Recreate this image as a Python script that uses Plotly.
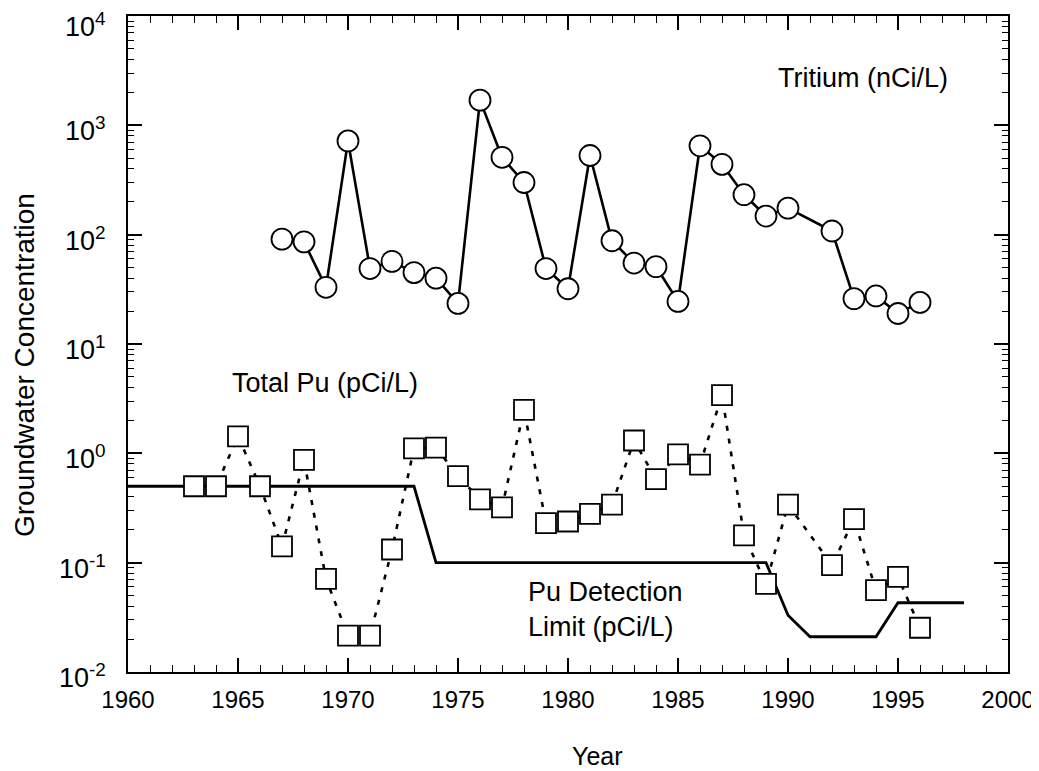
import math
import plotly.graph_objects as go

# ---- data ----
tritium_years = [1967, 1968, 1969, 1970, 1971, 1972, 1973, 1974, 1975, 1976, 1977, 1978,
                 1979, 1980, 1981, 1982, 1983, 1984, 1985, 1986, 1987, 1988, 1989, 1990,
                 1992, 1993, 1994, 1995, 1996]
tritium_vals = [91, 86, 33, 720, 49, 57, 45, 40, 23.5, 1700, 510, 300,
                49, 32, 530, 88, 55, 51, 24.5, 650, 440, 232, 148, 175,
                108, 26, 27.5, 19, 24]

pu_years = [1963, 1964, 1965, 1966, 1967, 1968, 1969, 1970, 1971, 1972, 1973, 1974,
            1975, 1976, 1977, 1978, 1979, 1980, 1981, 1982, 1983, 1984, 1985, 1986,
            1987, 1988, 1989, 1990, 1992, 1993, 1994, 1995, 1996]
pu_vals = [0.5, 0.5, 1.43, 0.5, 0.141, 0.87, 0.071, 0.0215, 0.0215, 0.132, 1.11, 1.13,
           0.62, 0.38, 0.32, 2.5, 0.23, 0.238, 0.28, 0.34, 1.31, 0.58, 0.98, 0.79,
           3.4, 0.178, 0.064, 0.34, 0.095, 0.25, 0.056, 0.074, 0.0254]

limit_years = [1960, 1973, 1974, 1989, 1990, 1991, 1994, 1995, 1998]
limit_vals = [0.5, 0.5, 0.1, 0.1, 0.033, 0.021, 0.021, 0.043, 0.043]

y_tick_vals = [1e-2, 1e-1, 1e0, 1e1, 1e2, 1e3, 1e4]
y_tick_text = ["10<sup>-2</sup>", "10<sup>-1</sup>", "10<sup>0</sup>", "10<sup>1</sup>",
               "10<sup>2</sup>", "10<sup>3</sup>", "10<sup>4</sup>"]
y_minor_vals = [d * 10.0 ** k for k in range(-2, 4) for d in range(2, 10)]
x_tick_vals = [1960, 1965, 1970, 1975, 1980, 1985, 1990, 1995, 2000]
x_tick_text = ["1960", "1965", "1970", "1975", "1980", "1985", "1990", "1995", "2000"]

FONT = "Liberation Sans, Arial, Helvetica, sans-serif"

fig = go.Figure()

fig.add_trace(go.Scatter(
    x=limit_years, y=limit_vals, mode="lines",
    line=dict(color="black", width=2.8), showlegend=False, hoverinfo="skip"))

fig.add_trace(go.Scatter(
    x=pu_years, y=pu_vals, mode="lines+markers",
    line=dict(color="black", width=2.6, dash="5px,8px"),
    marker=dict(symbol="square", size=20, color="white",
                line=dict(color="black", width=1.8)),
    showlegend=False))

fig.add_trace(go.Scatter(
    x=tritium_years, y=tritium_vals, mode="lines+markers",
    line=dict(color="black", width=2.6),
    marker=dict(symbol="circle", size=21, color="white",
                line=dict(color="black", width=1.8)),
    showlegend=False))

ann_font = dict(family=FONT, size=27, color="black")
fig.add_annotation(x=1993.4, y=3.433, xref="x", yref="y", text="Tritium (nCi/L)",
                   showarrow=False, font=ann_font)
fig.add_annotation(x=1968.95, y=0.642, xref="x", yref="y", text="Total Pu (pCi/L)",
                   showarrow=False, font=ann_font)
fig.add_annotation(x=1981.7, y=-1.425, xref="x", yref="y",
                   text="Pu Detection<br>Limit (pCi/L)", align="left",
                   showarrow=False, font=ann_font)

# y tick labels as text next to the axis (top one nudged down as in the reference)
for v, t in zip(y_tick_vals, y_tick_text):
    shift = -9 if v == max(y_tick_vals) else -4
    fig.add_annotation(x=-0.0227, y=math.log10(v), xref="paper", yref="y", text=t,
                       xanchor="right", yanchor="middle", yshift=shift, showarrow=False,
                       font=dict(family=FONT, size=27, color="black"))

# axis titles (placed as in the reference, slightly off-centre)
fig.add_annotation(x=0.533, y=-0.128, xref="paper", yref="paper", text="Year",
                   xanchor="center", yanchor="middle",
                   showarrow=False, font=dict(family=FONT, size=25, color="black"))
fig.add_annotation(x=-0.117, y=0.468, xref="paper", yref="paper",
                   text="Groundwater Concentration", textangle=-90,
                   xanchor="center", yanchor="middle",
                   showarrow=False, font=dict(family=FONT, size=28, color="black"))

fig.update_xaxes(
    range=[1960, 2000], tickmode="array", tickvals=x_tick_vals, ticktext=x_tick_text,
    ticks="inside", ticklen=14, tickwidth=1.5, tickcolor="black",
    minor=dict(dtick=1, tick0=1960, ticks="inside", ticklen=7, tickwidth=1.3, tickcolor="black"),
    showline=True, linecolor="black", linewidth=2, mirror="ticks",
    showgrid=False, zeroline=False, ticklabeloverflow="allow", ticklabelstandoff=5,
    tickfont=dict(family=FONT, size=24, color="black"),
)
fig.update_yaxes(
    type="log", range=[-2, 4], tickmode="array", tickvals=y_tick_vals,
    showticklabels=False,
    ticks="inside", ticklen=14, tickwidth=1.5, tickcolor="black",
    minor=dict(tickvals=y_minor_vals, ticks="inside", ticklen=6, tickwidth=1.3, tickcolor="black"),
    showline=True, linecolor="black", linewidth=2, mirror="ticks",
    showgrid=False, zeroline=False,
)

# the page body adds an 8px margin, so the figure is 8px smaller and margins shifted
fig.update_layout(
    width=1031, height=763,
    margin=dict(l=120, r=31, t=8, b=99, autoexpand=False),
    paper_bgcolor="white", plot_bgcolor="white",
    showlegend=False,
)

fig.write_html("out.html")
